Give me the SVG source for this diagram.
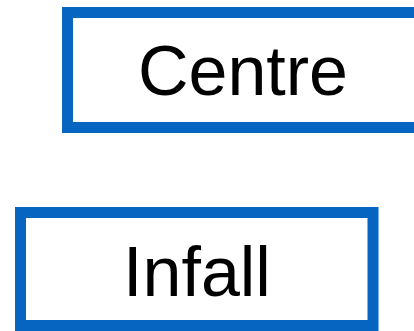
<svg xmlns="http://www.w3.org/2000/svg" width="414" height="331" viewBox="0 0 414 331">
<style>
.box{fill:#ffffff;stroke:#0565c0;stroke-width:11}
.lbl{font-family:"Liberation Sans",Arial,sans-serif;font-size:70px;fill:#000000;text-anchor:middle}
</style>
<rect width="414" height="331" fill="#ffffff"/>
<g id="connectors"></g>
<g id="centre">
<rect class="box" x="67.5" y="12.5" width="356" height="115"/>
<text class="lbl" x="243" y="95">Centre</text>
</g>
<g id="infall">
<rect class="box" x="20.5" y="212.5" width="352.5" height="113"/>
<text class="lbl" x="197" y="296">Infall</text>
</g>
</svg>
